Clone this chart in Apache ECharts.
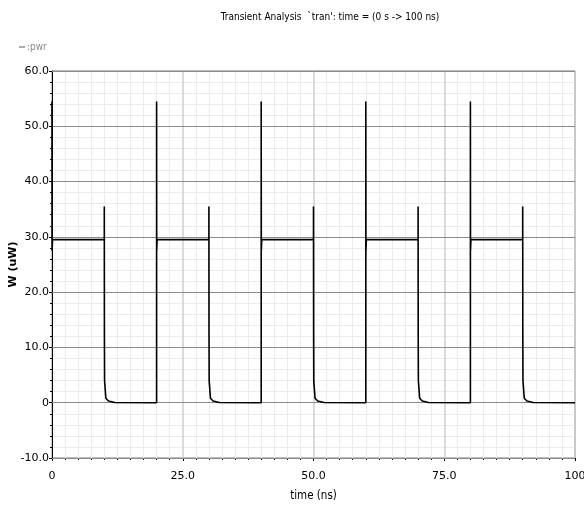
<!DOCTYPE html>
<html>
<head>
<meta charset="utf-8">
<script src="https://cdn.jsdelivr.net/npm/echarts@6/dist/echarts.min.js"></script>
<style>
  html, body { margin: 0; padding: 0; background: #fff; }
  #chart { width: 584px; height: 505px; }
</style>
</head>
<body>
<div id="chart"></div>
<script>
// time axis in ns, power in uW
const timeNs = [
  0, 0.02, 0.1, 10, 10, 10.02, 10.05, 10.3, 10.8, 12, 20,
  20, 20.02, 20.1, 30, 30, 30.02, 30.05, 30.3, 30.8, 32, 40,
  40, 40.02, 40.1, 50, 50, 50.02, 50.05, 50.3, 50.8, 52, 60,
  60, 60.02, 60.1, 70, 70, 70.02, 70.05, 70.3, 70.8, 72, 80,
  80, 80.02, 80.1, 90, 90, 90.02, 90.05, 90.3, 90.8, 92, 100
];
const powerUw = [
  54.5, 27.5, 29.5, 29.5, 35.5, 13, 4, 0.8, 0.3, 0.05, 0,
  54.5, 27.5, 29.5, 29.5, 35.5, 13, 4, 0.8, 0.3, 0.05, 0,
  54.5, 27.5, 29.5, 29.5, 35.5, 13, 4, 0.8, 0.3, 0.05, 0,
  54.5, 27.5, 29.5, 29.5, 35.5, 13, 4, 0.8, 0.3, 0.05, 0,
  54.5, 27.5, 29.5, 29.5, 35.5, 13, 4, 0.8, 0.3, 0.05, 0
];
const xTicks = { min: 0, max: 100, step: 25 };
const yTicks = { min: -10, max: 60, step: 10 };

const chart = echarts.init(document.getElementById('chart'));

const tickFont = {
  fontFamily: 'DejaVu Sans',
  fontSize: 11,
  color: '#000'
};

const option = {
  animation: false,
  title: {
    text: "Transient Analysis  `tran': time = (0 s -> 100 ns)",
    left: 325,
    textAlign: 'center',
    top: 7,
    textStyle: {
      fontFamily: 'DejaVu Sans Condensed',
      fontSize: 10,
      fontWeight: 'normal',
      color: '#000'
    }
  },
  legend: {
    left: 14,
    top: 37,
    itemWidth: 6,
    itemHeight: 1,
    itemGap: 2,
    icon: 'rect',
    data: [{ name: ':pwr', itemStyle: { color: '#555' } }],
    textStyle: {
      fontFamily: 'DejaVu Sans Condensed',
      fontSize: 10,
      color: '#888',
      padding: [0, 0, 0, -3]
    }
  },
  grid: {
    left: 52,
    right: 9,
    top: 71,
    bottom: 47,
    outerBoundsMode: 'none',
    containLabel: false,
    show: true,
    borderColor: '#777',
    borderWidth: 1
  },
  xAxis: {
    type: 'value',
    min: xTicks.min,
    max: xTicks.max,
    interval: xTicks.step,
    name: 'time (ns)',
    nameLocation: 'middle',
    nameGap: 32,
    nameMoveOverlap: false,
    nameTextStyle: {
      fontFamily: 'DejaVu Sans Condensed',
      fontSize: 11.5,
      color: '#000'
    },
    axisLine: { onZero: false, lineStyle: { color: '#000', width: 1 } },
    axisTick: { length: 3, lineStyle: { color: '#000' } },
    minorTick: { show: true, splitNumber: 10, length: 2, lineStyle: { color: '#000' } },
    axisLabel: Object.assign({}, tickFont, {
      margin: 13,
      formatter: v => (v === 0 || v === 100 ? String(v) : v.toFixed(1))
    }),
    splitLine: { lineStyle: { color: '#cfcfcf', width: 1.5, type: 'solid' } },
    minorSplitLine: { show: true, lineStyle: { color: '#ebebeb', width: 1 } }
  },
  yAxis: [
    {
      type: 'value',
      min: yTicks.min,
      max: yTicks.max,
      interval: yTicks.step,
      name: 'W (uW)',
      nameLocation: 'middle',
      nameGap: 33,
      nameMoveOverlap: false,
      nameTextStyle: {
        fontFamily: 'DejaVu Sans',
        fontSize: 11,
        fontWeight: 'bold',
        color: '#000'
      },
      axisLine: { show: true, onZero: false, lineStyle: { color: '#000', width: 1 } },
      axisTick: { show: true, length: 3, lineStyle: { color: '#000' } },
      minorTick: { show: true, splitNumber: 5, length: 2, lineStyle: { color: '#000' } },
      axisLabel: Object.assign({}, tickFont, {
        margin: 3,
        formatter: v => (v === 0 ? '0' : v.toFixed(1))
      }),
      splitLine: { show: false },
      minorSplitLine: { show: true, lineStyle: { color: '#ebebeb', width: 1 } }
    },
    {
      // overlay axis so the darker horizontal grid sits over the minor grid
      type: 'value',
      position: 'left',
      min: yTicks.min,
      max: yTicks.max,
      interval: yTicks.step,
      z: 1,
      axisLine: { show: false },
      axisTick: { show: false },
      axisLabel: { show: false },
      splitLine: { show: true, lineStyle: { color: '#8c8c8c', width: 1, type: 'solid' } }
    }
  ],
  series: [
    {
      name: ':pwr',
      type: 'line',
      showSymbol: false,
      symbol: 'none',
      color: '#000',
      z: 3,
      lineStyle: { color: '#000', width: 1.6 },
      data: timeNs.map((t, i) => [t, powerUw[i]])
    }
  ]
};

chart.setOption(option);
</script>
</body>
</html>
